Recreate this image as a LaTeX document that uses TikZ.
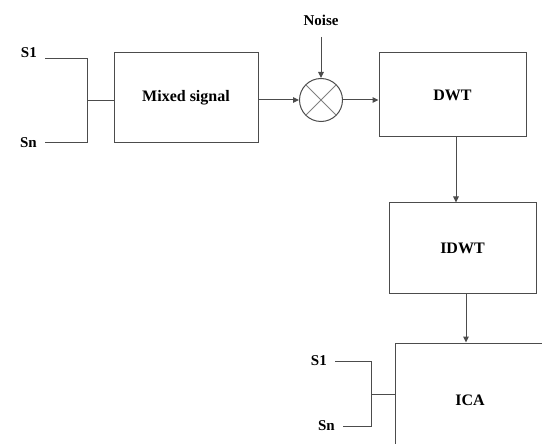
\documentclass[tikz,border=0pt]{standalone}
\usepackage{fontspec}
\setmainfont{Liberation Serif}
\usetikzlibrary{arrows.meta,positioning,calc}

\tikzset{
  blk/.style={draw=black!70, line width=1pt, font=\bfseries\fontsize{16}{18}\selectfont},
  lbl/.style={font=\bfseries\fontsize{15}{17}\selectfont, inner xsep=8pt, inner ysep=1pt},
  wire/.style={draw=black!70, line width=1pt},
  arr/.style={wire, -{Triangle[length=6pt,width=5.5pt]}},
  sum/.style={circle, draw=black!70, line width=1pt, minimum size=43pt, inner sep=0pt},
}

\begin{document}
\begin{tikzpicture}[x=1pt,y=-1pt]
\clip (0,0) rectangle (542,444);
% blocks
\node[blk, minimum width=144pt, minimum height=90pt] (mix) at (186,98) {Mixed signal};
\node[sum] (sum) at (321,100) {};
\draw[black!50, line width=0.8pt] (sum.north west) -- (sum.south east)
  (sum.north east) -- (sum.south west);
\node[blk, minimum width=147pt, minimum height=84pt] (dwt) at (452.5,95) {DWT};
\node[blk, minimum width=147pt, minimum height=90pt] (idwt) at (462.5,248) {IDWT};
\node[blk, minimum width=150pt, minimum height=114pt] (ica) at (470,400) {ICA};
% noise
\node[lbl] (noise) at (321,20) {Noise};
\coordinate (ntop) at (321,37);
\draw[arr] (ntop) -- (sum.north);
% inputs
\node[lbl, anchor=south east] (s1) at (45,58.5) {S1};
\node[lbl, anchor=east] (sn) at (45,143) {Sn};
\coordinate (j1) at (87,101);
\draw[wire] (s1.south east) -| (j1) -- (mix.west |- j1);
\draw[wire] (sn.east) -| (j1);
% chain
\draw[arr] (mix.east |- sum.west) -- (sum.west);
\draw[arr] (sum.east) -- (dwt.west |- sum.east);
\draw[arr] ([xshift=3.5pt]dwt.south) -- ([xshift=-6.5pt]idwt.north);
\draw[arr] ([xshift=3.5pt]idwt.south) -- ([xshift=-4pt]ica.north);
% outputs
\node[lbl, anchor=east] (s1b) at (335,361) {S1};
\node[lbl, anchor=east] (snb) at (343,426) {Sn};
\coordinate (j2) at (371,394);
\draw[wire] (s1b.east) -| (j2) -- (ica.west |- j2);
\draw[wire] (snb.east) -| (j2);
\end{tikzpicture}
\end{document}
